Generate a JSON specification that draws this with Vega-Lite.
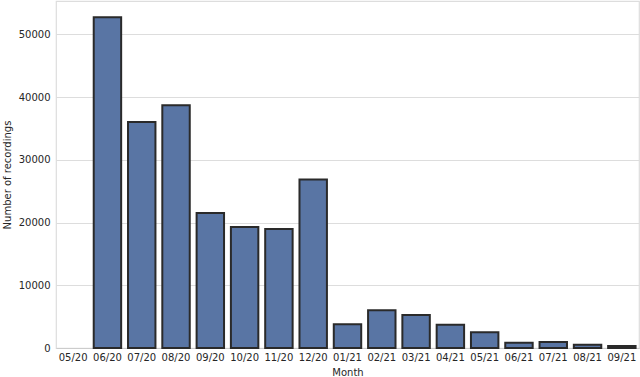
{
  "$schema": "https://vega.github.io/schema/vega-lite/v6.json",
  "autosize": "none",
  "width": 583,
  "height": 347,
  "padding": {"left": 56, "top": 1, "right": 1, "bottom": 29},
  "background": "white",
  "config": {
    "view": {"stroke": "#dddddd", "strokeWidth": 1.2},
    "font": "DejaVu Sans",
    "axis": {
      "labelFont": "DejaVu Sans",
      "titleFont": "DejaVu Sans",
      "labelFontSize": 10,
      "titleFontSize": 10,
      "labelColor": "#262626",
      "titleColor": "#262626",
      "titleFontWeight": "normal",
      "ticks": false,
      "domainColor": "#cccccc",
      "gridColor": "#dddddd"
    }
  },
  "data": {
    "values": [
      {"month": "05/20", "count": 0},
      {"month": "06/20", "count": 52700},
      {"month": "07/20", "count": 36000},
      {"month": "08/20", "count": 38700},
      {"month": "09/20", "count": 21500},
      {"month": "10/20", "count": 19300},
      {"month": "11/20", "count": 18950},
      {"month": "12/20", "count": 26850},
      {"month": "01/21", "count": 3800},
      {"month": "02/21", "count": 6000},
      {"month": "03/21", "count": 5250},
      {"month": "04/21", "count": 3700},
      {"month": "05/21", "count": 2500},
      {"month": "06/21", "count": 850},
      {"month": "07/21", "count": 950},
      {"month": "08/21", "count": 530},
      {"month": "09/21", "count": 320}
    ]
  },
  "mark": {"type": "bar", "color": "#5975a4", "stroke": "#2a2a2a", "strokeWidth": 2},
  "encoding": {
    "x": {
      "field": "month",
      "type": "ordinal",
      "sort": null,
      "scale": {"paddingInner": 0.2, "paddingOuter": 0.1},
      "axis": {"title": "Month", "labelAngle": 0, "labelPadding": 4, "titlePadding": 5, "grid": false, "domain": true}
    },
    "y": {
      "field": "count",
      "type": "quantitative",
      "scale": {"domain": [0, 55300], "nice": false},
      "axis": {"title": "Number of recordings", "values": [0, 10000, 20000, 30000, 40000, 50000], "format": "d", "labelPadding": 6, "titlePadding": 6, "grid": true, "domain": false}
    },
    "strokeOpacity": {"condition": {"test": "datum.count == 0", "value": 0}, "value": 1}
  }
}
